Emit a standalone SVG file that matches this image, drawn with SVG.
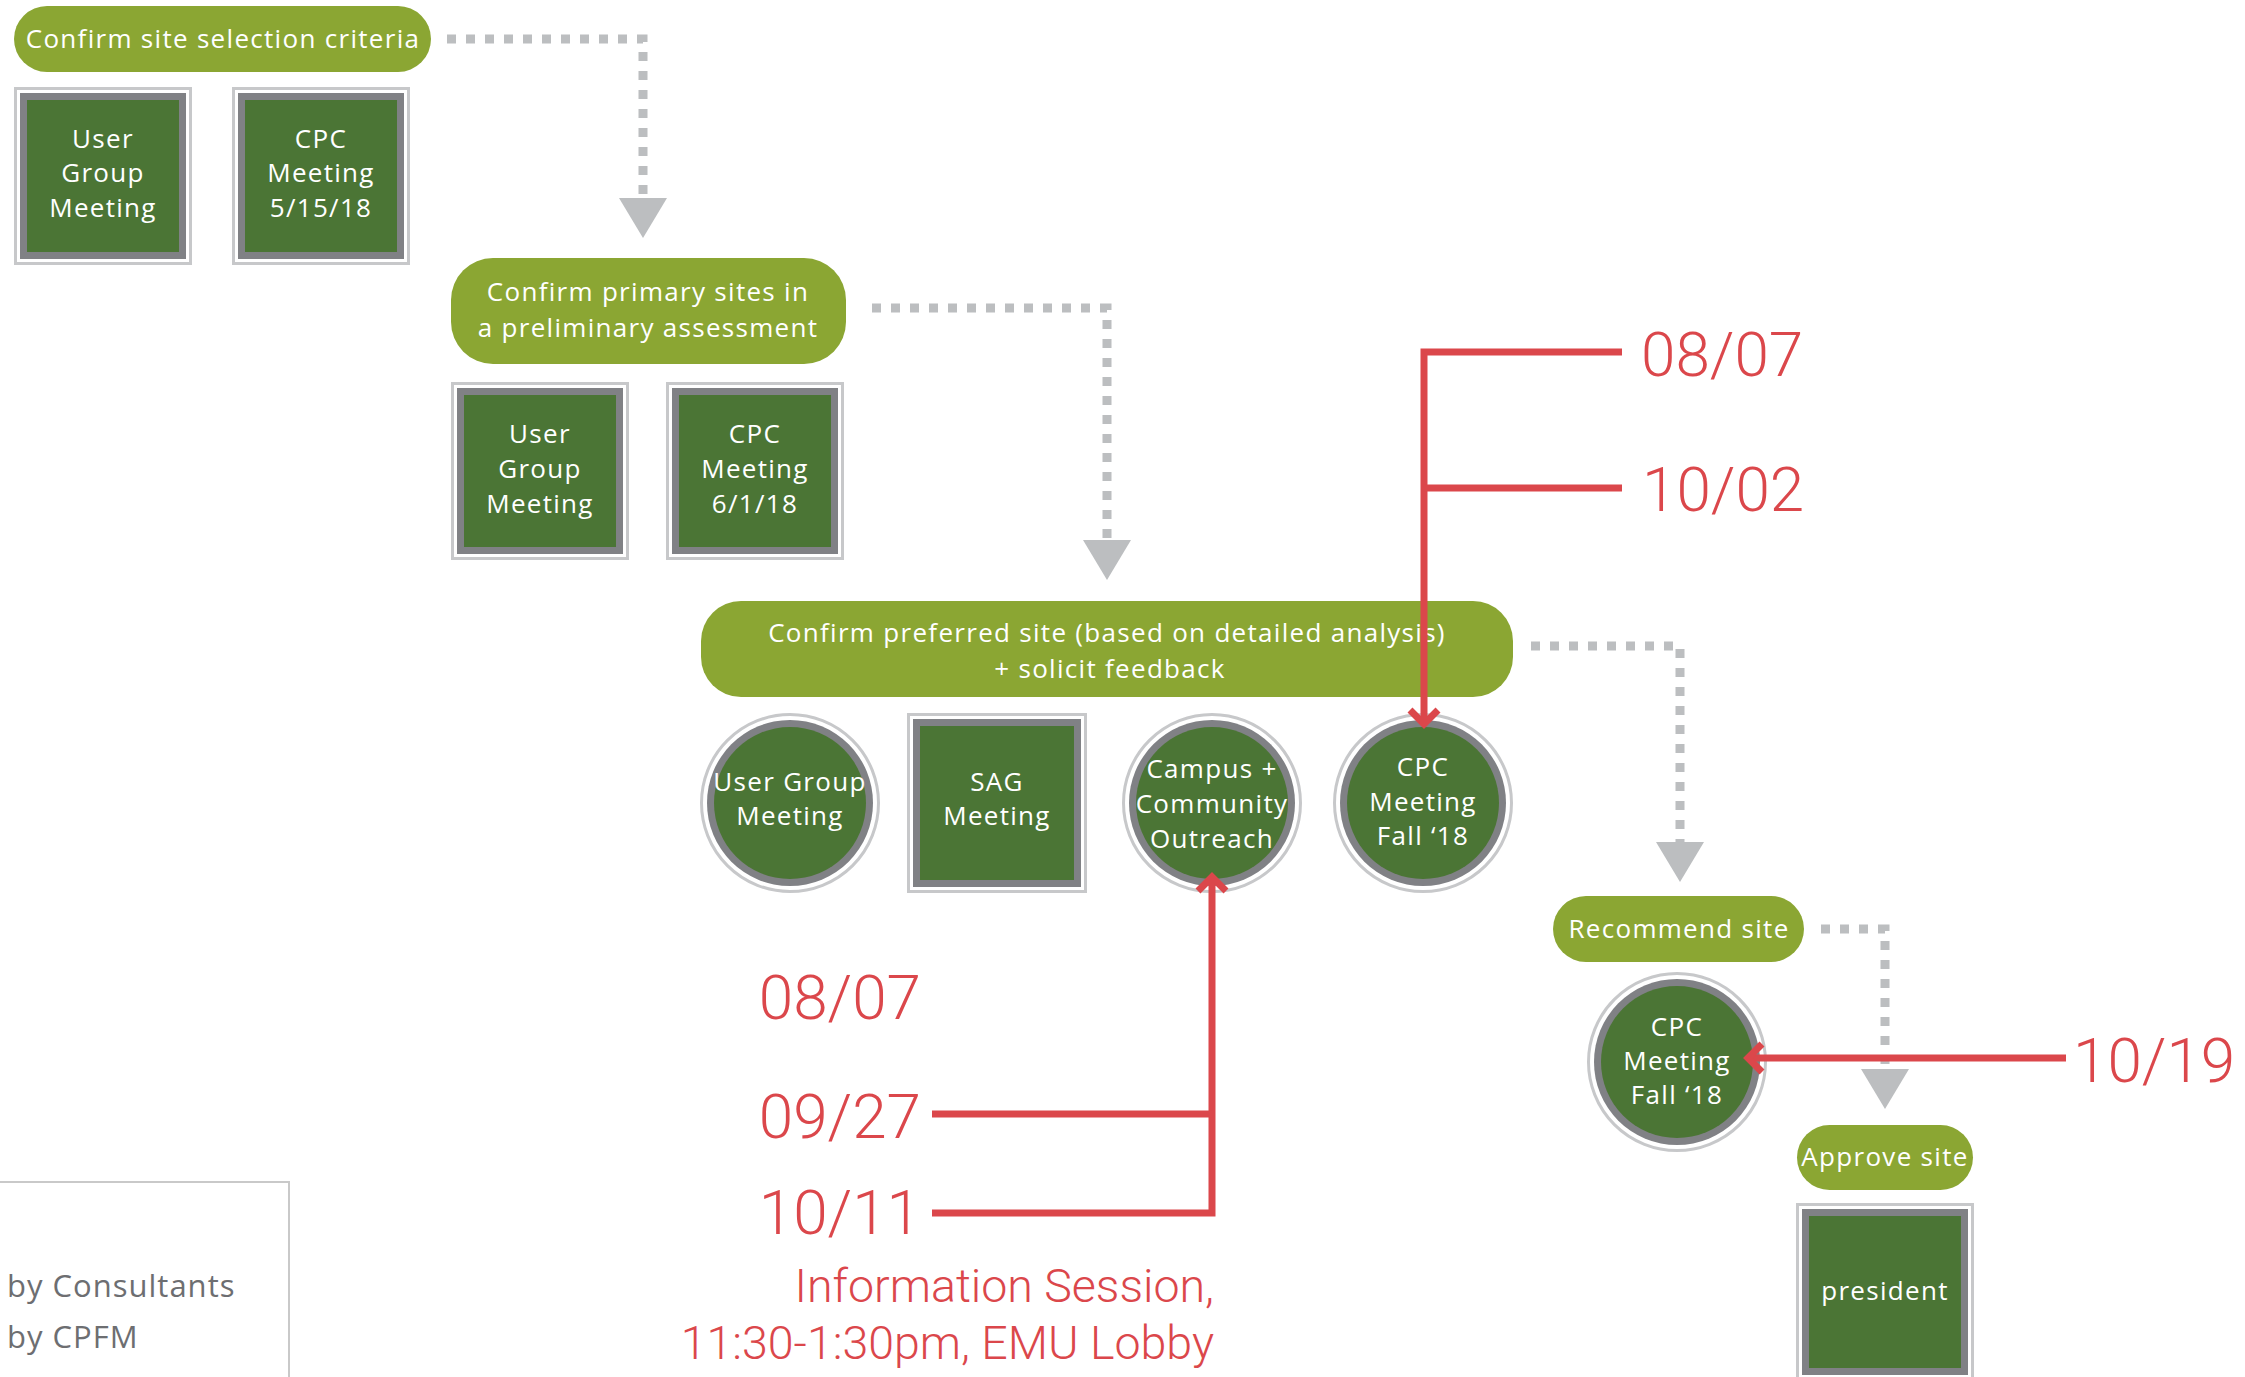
<svg xmlns="http://www.w3.org/2000/svg" width="2245" height="1377" viewBox="0 0 2245 1377">
<defs>
<style>
.pill{fill:#8ba633}
.t{font-family:"Open Sans","Noto Sans","Liberation Sans",sans-serif;font-size:26px;fill:#ffffff;text-anchor:middle;letter-spacing:1.3px}
.ol{fill:#ffffff;stroke:#c7c8ca;stroke-width:3}
.dk{fill:#808185}
.gr{fill:#4b7535}
.dot{fill:none;stroke:#bcbec0;stroke-width:9;stroke-dasharray:9 10}
.rl{fill:none;stroke:#db474b;stroke-width:7;stroke-linejoin:miter}
.rt{font-family:Roboto,"Liberation Sans",sans-serif;font-weight:300;fill:#db474b}
.lg{font-family:"Open Sans","Noto Sans","Liberation Sans",sans-serif;font-size:31px;fill:#6d6e71;letter-spacing:1px}
</style>
<marker id="tri" viewBox="0 0 40 48" refX="0" refY="24" markerWidth="40" markerHeight="48" markerUnits="userSpaceOnUse" orient="auto">
<path d="M0,0 L40,24 L0,48 Z" fill="#bcbec0"/>
</marker>
</defs>
<rect width="2245" height="1377" fill="#ffffff"/>

<g id="connectors">
<path class="dot" d="M447,39 H643 V198" marker-end="url(#tri)"/>
<path class="dot" d="M872,308 H1107 V540" marker-end="url(#tri)"/>
<path class="dot" d="M1531,646 H1680 V842" marker-end="url(#tri)"/>
<path class="dot" d="M1821,929 H1885 V1069" marker-end="url(#tri)"/>
</g>

<g id="pill-criteria"><rect class="pill" x="14" y="6" width="417" height="66" rx="33"/><text class="t" x="223" y="48">Confirm site selection criteria</text></g>
<g id="box-usergroup1"><rect class="ol" x="15.5" y="88.5" width="175" height="175"/><rect class="dk" x="20" y="93" width="166" height="166"/><rect class="gr" x="27" y="100" width="152" height="152"/><text class="t" x="103" y="148">User</text><text class="t" x="103" y="182">Group</text><text class="t" x="103" y="217">Meeting</text></g>
<g id="box-cpc1"><rect class="ol" x="233.5" y="88.5" width="175" height="175"/><rect class="dk" x="238" y="93" width="166" height="166"/><rect class="gr" x="245" y="100" width="152" height="152"/><text class="t" x="321" y="148">CPC</text><text class="t" x="321" y="182">Meeting</text><text class="t" x="321" y="217">5/15/18</text></g>

<g id="pill-primary"><rect class="pill" x="451" y="258" width="395" height="106" rx="42"/><text class="t" x="648" y="301">Confirm primary sites in</text><text class="t" x="648" y="337">a preliminary assessment</text></g>
<g id="box-usergroup2"><rect class="ol" x="452.5" y="383.5" width="175" height="175"/><rect class="dk" x="457" y="388" width="166" height="166"/><rect class="gr" x="464" y="395" width="152" height="152"/><text class="t" x="540" y="443">User</text><text class="t" x="540" y="478">Group</text><text class="t" x="540" y="513">Meeting</text></g>
<g id="box-cpc2"><rect class="ol" x="667.5" y="383.5" width="175" height="175"/><rect class="dk" x="672" y="388" width="166" height="166"/><rect class="gr" x="679" y="395" width="152" height="152"/><text class="t" x="755" y="443">CPC</text><text class="t" x="755" y="478">Meeting</text><text class="t" x="755" y="513">6/1/18</text></g>

<g id="pill-preferred"><rect class="pill" x="701" y="601" width="812" height="96" rx="40"/><text class="t" x="1107" y="642">Confirm preferred site (based on detailed analysis)</text><text class="t" x="1110" y="678">+ solicit feedback</text></g>
<g id="circle-usergroup3"><circle class="ol" cx="790" cy="803" r="88.5"/><circle class="dk" cx="790" cy="803" r="83"/><circle class="gr" cx="790" cy="803" r="76"/><text class="t" x="790" y="791">User Group</text><text class="t" x="790" y="825">Meeting</text></g>
<g id="box-sag"><rect class="ol" x="908.5" y="714.5" width="177" height="177"/><rect class="dk" x="913" y="719" width="168" height="168"/><rect class="gr" x="920" y="726" width="154" height="154"/><text class="t" x="997" y="791">SAG</text><text class="t" x="997" y="825">Meeting</text></g>
<g id="circle-outreach"><circle class="ol" cx="1212" cy="803" r="88.5"/><circle class="dk" cx="1212" cy="803" r="83"/><circle class="gr" cx="1212" cy="803" r="76"/><text class="t" x="1212" y="778">Campus +</text><text class="t" x="1212" y="813">Community</text><text class="t" x="1212" y="848">Outreach</text></g>
<g id="circle-cpc3"><circle class="ol" cx="1423" cy="803" r="88.5"/><circle class="dk" cx="1423" cy="803" r="83"/><circle class="gr" cx="1423" cy="803" r="76"/><text class="t" x="1423" y="776">CPC</text><text class="t" x="1423" y="811">Meeting</text><text class="t" x="1423" y="845">Fall ‘18</text></g>

<g id="pill-recommend"><rect class="pill" x="1553" y="896" width="251" height="66" rx="33"/><text class="t" x="1679" y="938">Recommend site</text></g>
<g id="circle-cpc4"><circle class="ol" cx="1677" cy="1062" r="88.5"/><circle class="dk" cx="1677" cy="1062" r="83"/><circle class="gr" cx="1677" cy="1062" r="76"/><text class="t" x="1677" y="1036">CPC</text><text class="t" x="1677" y="1070">Meeting</text><text class="t" x="1677" y="1104">Fall ‘18</text></g>
<g id="pill-approve"><rect class="pill" x="1797" y="1125" width="176" height="65" rx="32.5"/><text class="t" x="1885" y="1166">Approve site</text></g>
<g id="box-president"><rect class="ol" x="1797.5" y="1204.5" width="175" height="175"/><rect class="dk" x="1802" y="1209" width="166" height="166"/><rect class="gr" x="1809" y="1216" width="152" height="152"/><text class="t" x="1885" y="1300">president</text></g>

<g id="red-timeline">
<path class="rl" d="M1622,352 H1424 V724"/>
<path class="rl" d="M1622,488 H1424"/>
<path class="rl" d="M1410,710 L1424,724 L1438,710"/>
<path class="rl" d="M1212,877 V1213 H932"/>
<path class="rl" d="M932,1114 H1212"/>
<path class="rl" d="M1198,891 L1212,877 L1226,891"/>
<path class="rl" d="M2066,1058 H1748"/>
<path class="rl" d="M1762,1044 L1748,1058 L1762,1072"/>
<text class="rt" font-size="62" x="1641" y="376">08/07</text>
<text class="rt" font-size="62" x="1642" y="511">10/02</text>
<text class="rt" font-size="62" x="921" y="1019" text-anchor="end">08/07</text>
<text class="rt" font-size="62" x="921" y="1138" text-anchor="end">09/27</text>
<text class="rt" font-size="62" x="921" y="1234" text-anchor="end">10/11</text>
<text class="rt" font-size="46.5" x="1214" y="1302" text-anchor="end">Information Session,</text>
<text class="rt" font-size="46.5" x="1214" y="1359" text-anchor="end">11:30-1:30pm, EMU Lobby</text>
<text class="rt" font-size="62" x="2073" y="1082">10/19</text>
</g>

<g id="legend">
<path d="M0,1182 H289 V1377" fill="none" stroke="#c9c9c9" stroke-width="2"/>
<text class="lg" x="7" y="1297">by Consultants</text>
<text class="lg" x="7" y="1348">by CPFM</text>
</g>
</svg>
